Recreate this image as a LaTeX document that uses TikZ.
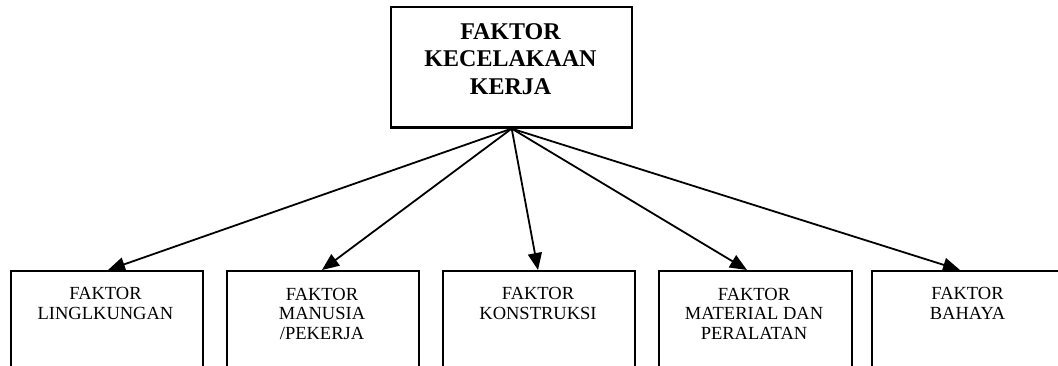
\documentclass[tikz,border=0pt]{standalone}
\usepackage{fontspec}
\setmainfont{Liberation Serif}
\usetikzlibrary{arrows.meta}
\tikzset{
  box/.style={draw, line width=2pt, rectangle, inner sep=0pt, anchor=north west},
  toptext/.style={anchor=base, align=center, inner sep=0pt, font=\fontsize{24}{27.5}\selectfont\bfseries},
  subtext/.style={anchor=base, align=center, inner sep=0pt, font=\fontsize{18.5}{19.8}\selectfont},
  arr/.style={line width=1.8pt, -{Triangle[length=17pt,width=14pt]}}
}
\begin{document}
\begin{tikzpicture}[x=1pt,y=-1pt]
\clip (0,0) rectangle (1058,365);
\fill[white] (0,0) rectangle (1058,365);
% top box
\node[box, line width=2.4pt, minimum width=241pt, minimum height=120.5pt] (top) at (390,5.7) {};
\node[toptext] (t0) at (510.5,94) {FAKTOR\\KECELAKAAN\\KERJA};
% bottom boxes
\node[box, minimum width=192pt, minimum height=130pt] (b1) at (10,270) {};
\node[box, minimum width=192pt, minimum height=130pt] (b2) at (226,270) {};
\node[box, minimum width=192pt, minimum height=130pt] (b3) at (442,270) {};
\node[box, minimum width=193pt, minimum height=130pt] (b4) at (658,270) {};
\node[box, minimum width=193pt, minimum height=130pt] (b5) at (871,270) {};
\node[subtext] (t1) at (105.5,319.6) {FAKTOR\\LINGLKUNGAN};
\node[subtext] (t2) at (322,339.6) {FAKTOR\\MANUSIA\\/PEKERJA};
\node[subtext] (t3) at (538,319.6) {FAKTOR\\KONSTRUKSI};
\node[subtext] (t4) at (754,339.6) {FAKTOR\\MATERIAL DAN\\PERALATAN};
\node[subtext] (t5) at (967.5,319.6) {FAKTOR\\BAHAYA};
% arrows
\draw[arr] (top.south) -- (b1.north -| 108,0);
\draw[arr] (top.south) -- (b2.north -| 322,0);
\draw[arr] (top.south) -- (b3.north -| 538,0);
\draw[arr] (top.south) -- (b4.north -| 747,0);
\draw[arr] (top.south) -- (b5.north -| 960,0);
\end{tikzpicture}
\end{document}
